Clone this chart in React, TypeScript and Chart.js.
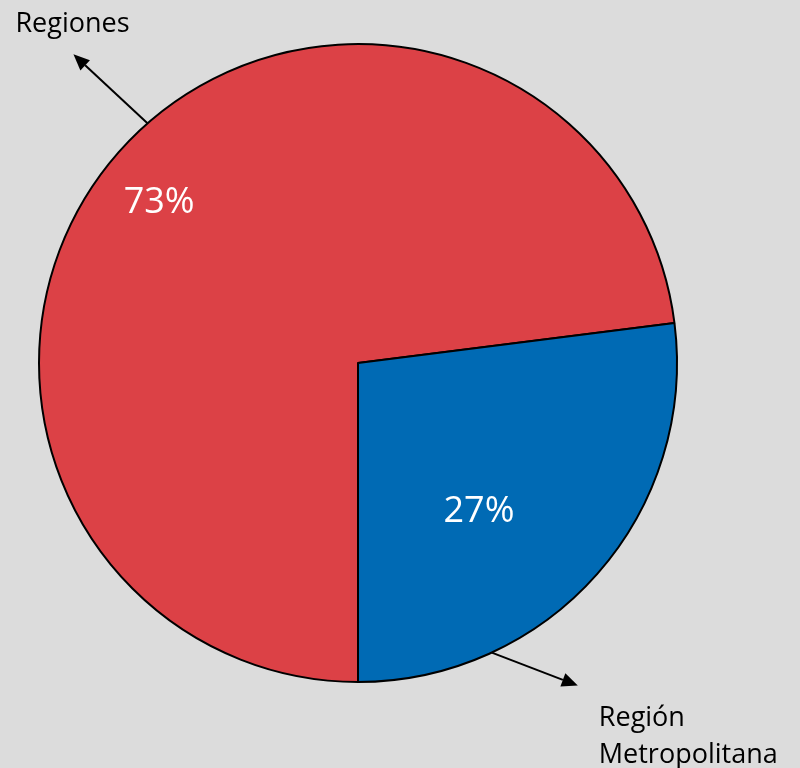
import React, { useEffect, useRef } from "react";
import { Chart, registerables } from "chart.js";

Chart.register(...registerables);

const categories = ["Regiones", "Región Metropolitana"];
const values = [73, 27];
const percentLabels = ["73%", "27%"];
const sliceColors = ["#DC4146", "#006AB4"];

// annotation geometry, relative to pie centre (angle in degrees clockwise from 12 o'clock, dist as fraction of radius)
const valueLabelPos = [
  { angle: 308.8, dist: 0.8 },
  { angle: 140.8, dist: 0.6 },
];
const arrowPos = [
  { angle: 318.7, dx: -74, dy: -69 },
  { angle: 155.2, dx: 86, dy: 33 },
];

const overlayPlugin = {
  id: "overlay",
  beforeDraw(chart: any) {
    const ctx = chart.ctx;
    ctx.save();
    ctx.fillStyle = "#DCDCDC";
    ctx.fillRect(0, 0, chart.width, chart.height);
    ctx.restore();
  },
  afterDraw(chart: any) {
    const ctx = chart.ctx;
    const arc = chart.getDatasetMeta(0).data[0];
    const cx = arc.x;
    const cy = arc.y;
    const r = arc.outerRadius;
    const toXY = (deg: number, d: number) => {
      const a = (deg * Math.PI) / 180;
      return { x: cx + Math.sin(a) * d, y: cy - Math.cos(a) * d };
    };
    ctx.save();
    // value labels
    ctx.fillStyle = "#FFFFFF";
    ctx.font = "36px 'Open Sans'";
    ctx.textAlign = "center";
    ctx.textBaseline = "middle";
    percentLabels.forEach((t, i) => {
      const p = toXY(valueLabelPos[i].angle, valueLabelPos[i].dist * r);
      ctx.fillText(t, p.x, p.y);
    });
    // arrows
    ctx.strokeStyle = "#000";
    ctx.fillStyle = "#000";
    ctx.lineWidth = 2;
    const tips: { x: number; y: number }[] = [];
    arrowPos.forEach((a) => {
      const s = toXY(a.angle, r);
      const e = { x: s.x + a.dx, y: s.y + a.dy };
      tips.push(e);
      const len = Math.hypot(a.dx, a.dy);
      const ux = a.dx / len;
      const uy = a.dy / len;
      const hl = 16;
      const hw = 7;
      const bx = e.x - ux * hl;
      const by = e.y - uy * hl;
      ctx.beginPath();
      ctx.moveTo(s.x, s.y);
      ctx.lineTo(bx, by);
      ctx.stroke();
      ctx.beginPath();
      ctx.moveTo(e.x, e.y);
      ctx.lineTo(bx - uy * hw, by + ux * hw);
      ctx.lineTo(bx + uy * hw, by - ux * hw);
      ctx.closePath();
      ctx.fill();
    });
    // category labels
    ctx.fillStyle = "#000";
    ctx.font = "27px 'Open Sans'";
    ctx.textAlign = "left";
    ctx.textBaseline = "alphabetic";
    ctx.fillText(categories[0], tips[0].x - 58, tips[0].y - 22);
    const words = categories[1].split(" ");
    ctx.fillText(words[0], tips[1].x + 21, tips[1].y + 40);
    ctx.fillText(words[1], tips[1].x + 21, tips[1].y + 77);
    ctx.restore();
  },
};

export default function App() {
  const ref = useRef<HTMLCanvasElement>(null);
  useEffect(() => {
    document.body.style.margin = "0";
    document.body.style.background = "#DCDCDC";
    const chart = new Chart(ref.current!, {
      type: "pie",
      data: {
        labels: categories,
        datasets: [
          {
            data: values,
            backgroundColor: sliceColors,
            borderColor: "#000000",
            borderWidth: 2,
          },
        ],
      },
      options: {
        responsive: false,
        animation: false,
        rotation: 180,
        radius: 319,
        layout: { padding: { left: 39, right: 123, top: 44, bottom: 86 } },
        plugins: {
          legend: { display: false },
          tooltip: { enabled: false },
        },
      },
      plugins: [overlayPlugin],
    });
    return () => chart.destroy();
  }, []);
  return (
    <div style={{ position: "absolute", left: 0, top: 0, width: 800, height: 768 }}>
      <canvas ref={ref} width={800} height={768} />
    </div>
  );
}
